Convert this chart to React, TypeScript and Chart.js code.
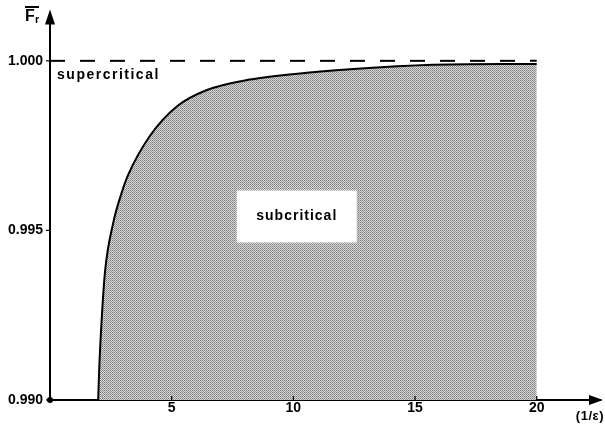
import React, { useEffect, useRef } from "react";
import { Chart, registerables } from "chart.js";

Chart.register(...registerables);

// Curve Fr(1/eps) separating sub/supercritical
const curveX = [1.98, 2.02, 2.12, 2.26, 2.6, 2.94, 3.22, 4.11, 5.22, 6.45, 8.21, 10.55, 13.26, 15.48, 20];
const curveY = [0.99, 0.99087, 0.99233, 0.99378, 0.99523, 0.9961, 0.99665, 0.99779, 0.99866, 0.99914, 0.99945, 0.99965, 0.9998, 0.99988, 0.99991];
const limitX = [0, 20];
const limitY = [1.0, 1.0];
const xTickValues = [5, 10, 15, 20];
const yTickValues = [0.99, 0.995, 1.0];
const xMin = 0;
const xMax = 22.6;
const yMin = 0.99;
const yMax = 1.00134;

const FONT = '"Liberation Sans", Arial, Helvetica, sans-serif';

function makePattern(): CanvasPattern | string {
  const c = document.createElement("canvas");
  c.width = 2;
  c.height = 2;
  const g = c.getContext("2d");
  if (!g) return "#b1b1b1";
  const cols = [
    ["#7c7c7c", "#d8d8d8"],
    ["#d8d8d8", "#9a9a9a"],
  ];
  for (let r = 0; r < 2; r++)
    for (let q = 0; q < 2; q++) {
      g.fillStyle = cols[r][q];
      g.fillRect(q, r, 1, 1);
    }
  return g.createPattern(c, "repeat") || "#b1b1b1";
}

const decorPlugin = {
  id: "decor",
  afterDatasetsDraw(chart: any) {
    const { ctx, scales } = chart;
    const xs = scales.x;
    const ys = scales.y;
    const x0 = xs.getPixelForValue(xMin);
    const y0 = ys.getPixelForValue(yMin);
    const xEnd = xs.right;
    const yTop = ys.top;
    ctx.save();
    ctx.fillStyle = "#000";
    ctx.strokeStyle = "#000";
    // arrowheads
    ctx.beginPath();
    ctx.moveTo(x0, yTop - 6);
    ctx.lineTo(x0 - 5, yTop + 9);
    ctx.lineTo(x0 + 5, yTop + 9);
    ctx.closePath();
    ctx.fill();
    ctx.beginPath();
    ctx.moveTo(xEnd + 3, y0);
    ctx.lineTo(xEnd - 11, y0 - 5);
    ctx.lineTo(xEnd - 11, y0 + 5);
    ctx.closePath();
    ctx.fill();
    // origin dot
    ctx.beginPath();
    ctx.arc(x0, y0, 3, 0, Math.PI * 2);
    ctx.fill();
    // tick marks
    ctx.lineWidth = 1.2;
    xTickValues.forEach((v) => {
      const px = xs.getPixelForValue(v);
      ctx.beginPath();
      ctx.moveTo(px, y0);
      ctx.lineTo(px, y0 - 4);
      ctx.stroke();
    });
    yTickValues.forEach((v) => {
      const py = ys.getPixelForValue(v);
      ctx.beginPath();
      ctx.moveTo(x0 - 4, py);
      ctx.lineTo(x0, py);
      ctx.stroke();
    });
    // subcritical box
    const bx = xs.getPixelForValue(10.14);
    const by = ys.getPixelForValue(0.99541);
    ctx.fillStyle = "#fff";
    ctx.fillRect(bx - 60, by - 26, 120, 52);
    ctx.fillStyle = "#000";
    ctx.font = "bold 14px " + FONT;
    (ctx as any).letterSpacing = "1px";
    ctx.textAlign = "center";
    ctx.textBaseline = "middle";
    ctx.fillText("subcritical", bx, by);
    // supercritical
    (ctx as any).letterSpacing = "1.5px";
    ctx.textAlign = "left";
    ctx.fillText("supercritical", xs.getPixelForValue(0.29), ys.getPixelForValue(0.99959));
    // axis titles
    (ctx as any).letterSpacing = "0px";
    ctx.font = "bold 16px " + FONT;
    ctx.textAlign = "left";
    ctx.textBaseline = "alphabetic";
    ctx.fillText("F", 25, 21);
    ctx.font = "bold 11px " + FONT;
    ctx.fillText("r", 35, 23);
    ctx.fillRect(25, 6, 14, 2);
    ctx.font = "bold 13px " + FONT;
    (ctx as any).letterSpacing = "0.5px";
    ctx.textAlign = "right";
    ctx.fillText("(1/ε)", 604, 420);
    ctx.restore();
  },
};

export default function App() {
  const ref = useRef<HTMLCanvasElement | null>(null);
  useEffect(() => {
    document.body.style.margin = "0";
    const cv = ref.current;
    if (!cv) return;
    const pattern = makePattern();
    const chart = new Chart(cv, {
      type: "line",
      data: {
        datasets: [
          {
            data: limitX.map((x, i) => ({ x, y: limitY[i] })),
            borderColor: "#000",
            borderWidth: 2,
            borderDash: [15, 15],
            pointRadius: 0,
            fill: false,
          },
          {
            data: curveX.map((x, i) => ({ x, y: curveY[i] })),
            borderColor: "#000",
            borderWidth: 2,
            backgroundColor: pattern as any,
            fill: "start",
            pointRadius: 0,
            cubicInterpolationMode: "monotone",
          },
        ],
      },
      options: {
        animation: false,
        responsive: false,
        events: [],
        layout: { padding: { top: 10, right: 5, left: 0, bottom: 0 } },
        plugins: { legend: { display: false }, tooltip: { enabled: false } },
        scales: {
          x: {
            type: "linear",
            min: xMin,
            max: xMax,
            grid: { display: false, tickLength: 0 },
            border: { display: true, color: "#000", width: 2 },
            afterBuildTicks: (s: any) => {
              s.ticks = xTickValues.map((v) => ({ value: v }));
            },
            afterFit: (s: any) => {
              s.height = 28;
            },
            ticks: {
              color: "#000",
              padding: 0,
              maxRotation: 0,
              font: { family: FONT, size: 14, weight: "bold" },
              callback: (v: any) => String(v),
            },
          },
          y: {
            type: "linear",
            min: yMin,
            max: yMax,
            grid: { display: false, tickLength: 0 },
            border: { display: true, color: "#000", width: 2 },
            afterBuildTicks: (s: any) => {
              s.ticks = yTickValues.map((v) => ({ value: v }));
            },
            afterFit: (s: any) => {
              s.width = 50;
            },
            ticks: {
              color: "#000",
              padding: 7,
              font: { family: FONT, size: 14, weight: "bold" },
              callback: (v: any) => Number(v).toFixed(3),
            },
          },
        },
      },
      plugins: [decorPlugin],
    });
    return () => chart.destroy();
  }, []);
  return (
    <div style={{ position: "absolute", left: 0, top: 0, width: 605, height: 428 }}>
      <canvas ref={ref} width={605} height={428} style={{ width: 605, height: 428, display: "block" }} />
    </div>
  );
}
